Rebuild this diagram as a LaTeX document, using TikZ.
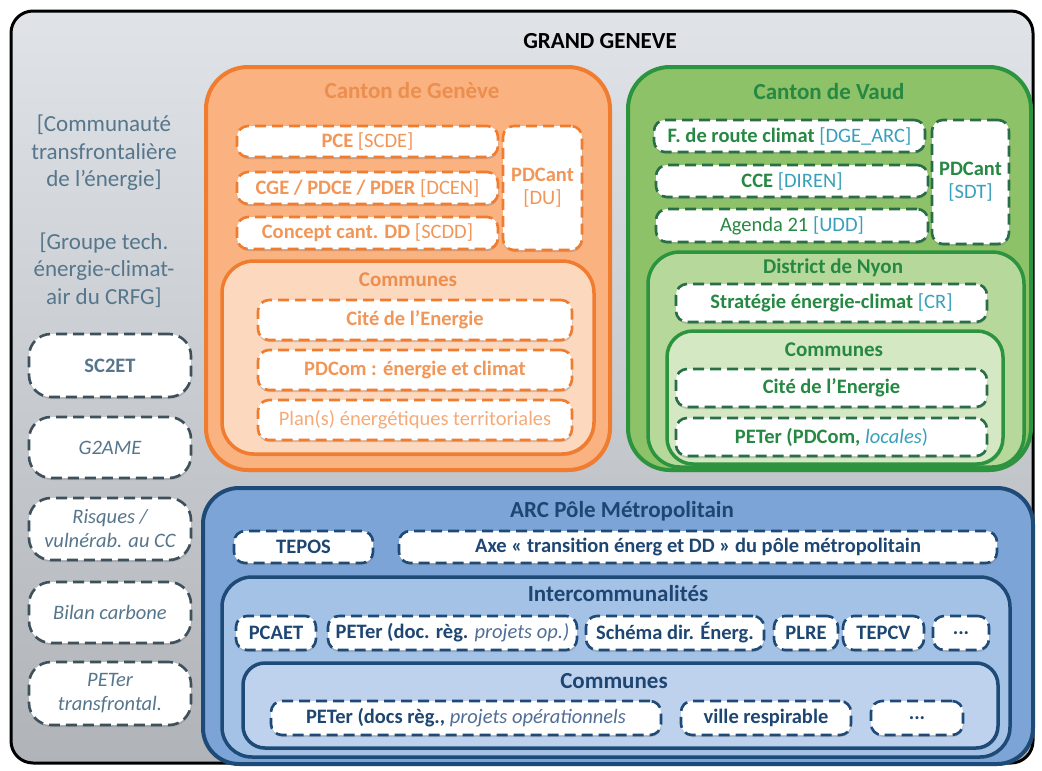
\documentclass[tikz,border=0pt]{standalone}
\usepackage{fontspec}
\setmainfont{Carlito}
\usetikzlibrary{fit,shadows}
\definecolor{grayTop}{RGB}{224,227,231}
\definecolor{grayBot}{RGB}{176,179,183}
\definecolor{leftText}{RGB}{86,118,140}
\definecolor{leftDash}{RGB}{62,80,92}
\definecolor{orBorder}{RGB}{240,124,48}
\definecolor{orFill}{RGB}{249,178,128}
\definecolor{orLight}{RGB}{252,216,190}
\definecolor{orText}{RGB}{236,142,78}
\definecolor{orItem}{RGB}{242,150,88}
\definecolor{grBorder}{RGB}{44,148,62}
\definecolor{grFill}{RGB}{142,194,104}
\definecolor{grMid}{RGB}{182,216,154}
\definecolor{grLight}{RGB}{212,232,196}
\definecolor{grText}{RGB}{38,136,66}
\definecolor{grDash}{RGB}{40,110,70}
\definecolor{teal}{RGB}{56,160,186}
\definecolor{blBorder}{RGB}{30,74,120}
\definecolor{blFill}{RGB}{124,164,214}
\definecolor{blMid}{RGB}{164,194,230}
\definecolor{blLight}{RGB}{190,210,238}
\definecolor{blText}{RGB}{30,70,114}
\definecolor{blItal}{RGB}{80,110,150}
\newcommand{\bx}[6]{\node[#1, minimum width={#4pt-#2pt}, minimum height={#5pt-#3pt}] (#6) at ({(#2+#4)/2},{(#3+#5)/2})}
\tikzset{
  cont/.style={inner sep=0pt, line width=4pt, drop shadow={shadow xshift=1pt, shadow yshift=-2pt, opacity=0.35}},
  dbox/.style={inner sep=0pt, fill=white, line width=2.6pt, dash pattern=on 11pt off 6pt,
    rounded corners=11pt, align=center, font=\fontsize{20.5}{23}\selectfont,
    drop shadow={shadow xshift=0.5pt, shadow yshift=-2pt, opacity=0.35}},
  lbox/.style={dbox, rounded corners=22pt, draw=leftDash, text=leftText, font=\itshape\fontsize{20.5}{24}\selectfont},
  orbox/.style={dbox, draw=orBorder, text=orItem},
  grbox/.style={dbox, draw=grDash, text=grText},
  blbox/.style={dbox, draw=blBorder, text=blText},
  ttl/.style={font=\bfseries\fontsize{23}{27}\selectfont},
  sttl/.style={font=\bfseries\fontsize{21}{25}\selectfont},
  bttl/.style={font=\bfseries\fontsize{23}{27}\selectfont},
  ltext/.style={align=center, text=leftText, font=\fontsize{23}{27.5}\selectfont},
}
\begin{document}
\begin{tikzpicture}[x=1pt,y=-1pt]
\useasboundingbox (0,0) rectangle (1042,771);
\fill[white] (0,0) rectangle (1042,771);
% outer frame
\node[fit={(11,11) (1033,763)}, inner sep=0pt, rounded corners=22pt, draw=black, line width=3pt,
  top color=grayTop, bottom color=grayBot] (frame) {};
\node[ttl, text=black] (title) at (600,41) {GRAND GENEVE};
% left column
\node[ltext] (comm) at (104,153) {[Communauté\\transfrontalière\\de l’énergie]};
\node[ltext] (grp) at (104,270) {[Groupe tech.\\énergie-climat-\\air du CRFG]};
\bx{lbox, font=\bfseries\fontsize{20.5}{24}\selectfont}{29}{334}{191}{397}{sc2et} {SC2ET};
\bx{lbox}{29}{417}{191}{478}{g2ame} {G2AME};
\bx{lbox}{29}{498}{191}{560}{risq} {Risques /\\vulnérab. au CC};
\bx{lbox}{29}{582}{191}{643}{bilan} {Bilan carbone};
\bx{lbox}{29}{662}{191}{725}{petert} {PETer\\transfrontal.};
% Canton de Geneve
\node[cont, fit={(206,67) (610,470)}, draw=orBorder, fill=orFill, rounded corners=42pt] (ge) {};
\node[ttl, text=orText] (getitle) at (412,91) {Canton de Genève};
\bx{orbox}{237}{126}{498}{157}{pce} {\textbf{PCE} [SCDE]};
\bx{orbox}{237}{172}{498}{204}{cge} {\textbf{CGE / PDCE / PDER} [DCEN]};
\bx{orbox}{237}{217}{498}{249}{ccdd} {\textbf{Concept cant. DD} [SCDD]};
\bx{orbox}{503}{126}{582}{250}{pdcge} {\textbf{PDCant}\\{}[DU]};
\node[cont, line width=3.5pt, fit={(222,261) (594,454)}, draw=orBorder, fill=orLight, rounded corners=32pt] (gecom) {};
\node[sttl, text=orText] (gecomt) at (408,280) {Communes};
\bx{orbox}{258}{300}{572}{340}{gecite} {\textbf{Cité de l’Energie}};
\bx{orbox}{258}{350}{572}{390}{gepdcom} {\textbf{PDCom : énergie et climat}};
\bx{orbox, text=orItem!80}{258}{400}{572}{440}{geplan} {Plan(s) énergétiques territoriales};
% Canton de Vaud
\node[cont, fit={(628,67) (1031,470)}, draw=grBorder, fill=grFill, rounded corners=42pt] (vd) {};
\node[ttl, text=grText] (vdtitle) at (829,92) {Canton de Vaud};
\bx{grbox}{654}{120}{925}{152}{froute} {\textbf{F. de route climat} \textcolor{teal}{[DGE\_ARC]}};
\bx{grbox}{656}{165}{928}{197}{cce} {\textbf{CCE} \textcolor{teal}{[DIREN]}};
\bx{grbox}{656}{209}{928}{242}{agenda} {Agenda 21 \textcolor{teal}{[UDD]}};
\bx{grbox}{932}{120}{1009}{244}{pdcvd} {\textbf{PDCant}\\\textcolor{teal}{[SDT]}};
\node[cont, line width=3.5pt, fit={(648,252) (1024,467)}, draw=grBorder, fill=grMid, rounded corners=32pt] (nyon) {};
\node[sttl, text=grText] (nyont) at (833,268) {District de Nyon};
\bx{grbox}{676}{284}{987}{322}{strat} {\textbf{Stratégie énergie-climat} \textcolor{teal}{[CR]}};
\node[cont, line width=3.5pt, fit={(667,331) (1003,464)}, draw=grBorder, fill=grLight, rounded corners=26pt] (vdcom) {};
\node[sttl, text=grText] (vdcomt) at (834,350) {Communes};
\bx{grbox}{676}{369}{987}{407}{vdcite} {\textbf{Cité de l’Energie}};
\bx{grbox}{676}{418}{987}{456}{vdpeter} {\textbf{PETer (PDCom,} \textcolor{teal}{\textit{locales})}};
% ARC
\node[cont, fit={(203,488) (1033,764)}, draw=blBorder, fill=blFill, rounded corners=36pt] (arc) {};
\node[ttl, text=blText] (arct) at (622,511) {ARC Pôle Métropolitain};
\bx{blbox}{234}{531}{373}{563}{tepos} {\textbf{TEPOS}};
\bx{blbox}{399}{531}{997}{563}{axe} {\textbf{Axe « transition énerg et DD » du pôle métropolitain}};
\node[cont, line width=3.5pt, fit={(222,577) (1010,757)}, draw=blBorder, fill=blMid, rounded corners=30pt] (inter) {};
\node[bttl, text=blText] (intert) at (618,594) {Intercommunalités};
\bx{blbox}{236}{616}{316}{650}{pcaet} {\textbf{PCAET}};
\bx{blbox}{328}{616}{577}{650}{peteri} {\textbf{PETer (doc. règ.} \textcolor{blItal}{\textit{projets op.)}}};
\bx{blbox}{586}{616}{764}{650}{schema} {\textbf{Schéma dir. Énerg.}};
\bx{blbox}{774}{616}{838}{650}{plre} {\textbf{PLRE}};
\bx{blbox}{843}{616}{924}{650}{tepcv} {\textbf{TEPCV}};
\bx{blbox}{933}{616}{989}{650}{dotsi} {\textbf{...}};
\node[cont, line width=3.5pt, fit={(243,663) (998,748)}, draw=blBorder, fill=blLight, rounded corners=22pt] (blcom) {};
\node[bttl, text=blText] (blcomt) at (614,681) {Communes};
\bx{blbox}{271}{701}{661}{735}{peterc} {\textbf{PETer (docs règ.,} \textcolor{blItal}{\textit{projets opérationnels}}};
\bx{blbox}{681}{701}{851}{735}{ville} {\textbf{ville respirable}};
\bx{blbox}{871}{701}{963}{735}{dotsc} {\textbf{...}};
\end{tikzpicture}
\end{document}
